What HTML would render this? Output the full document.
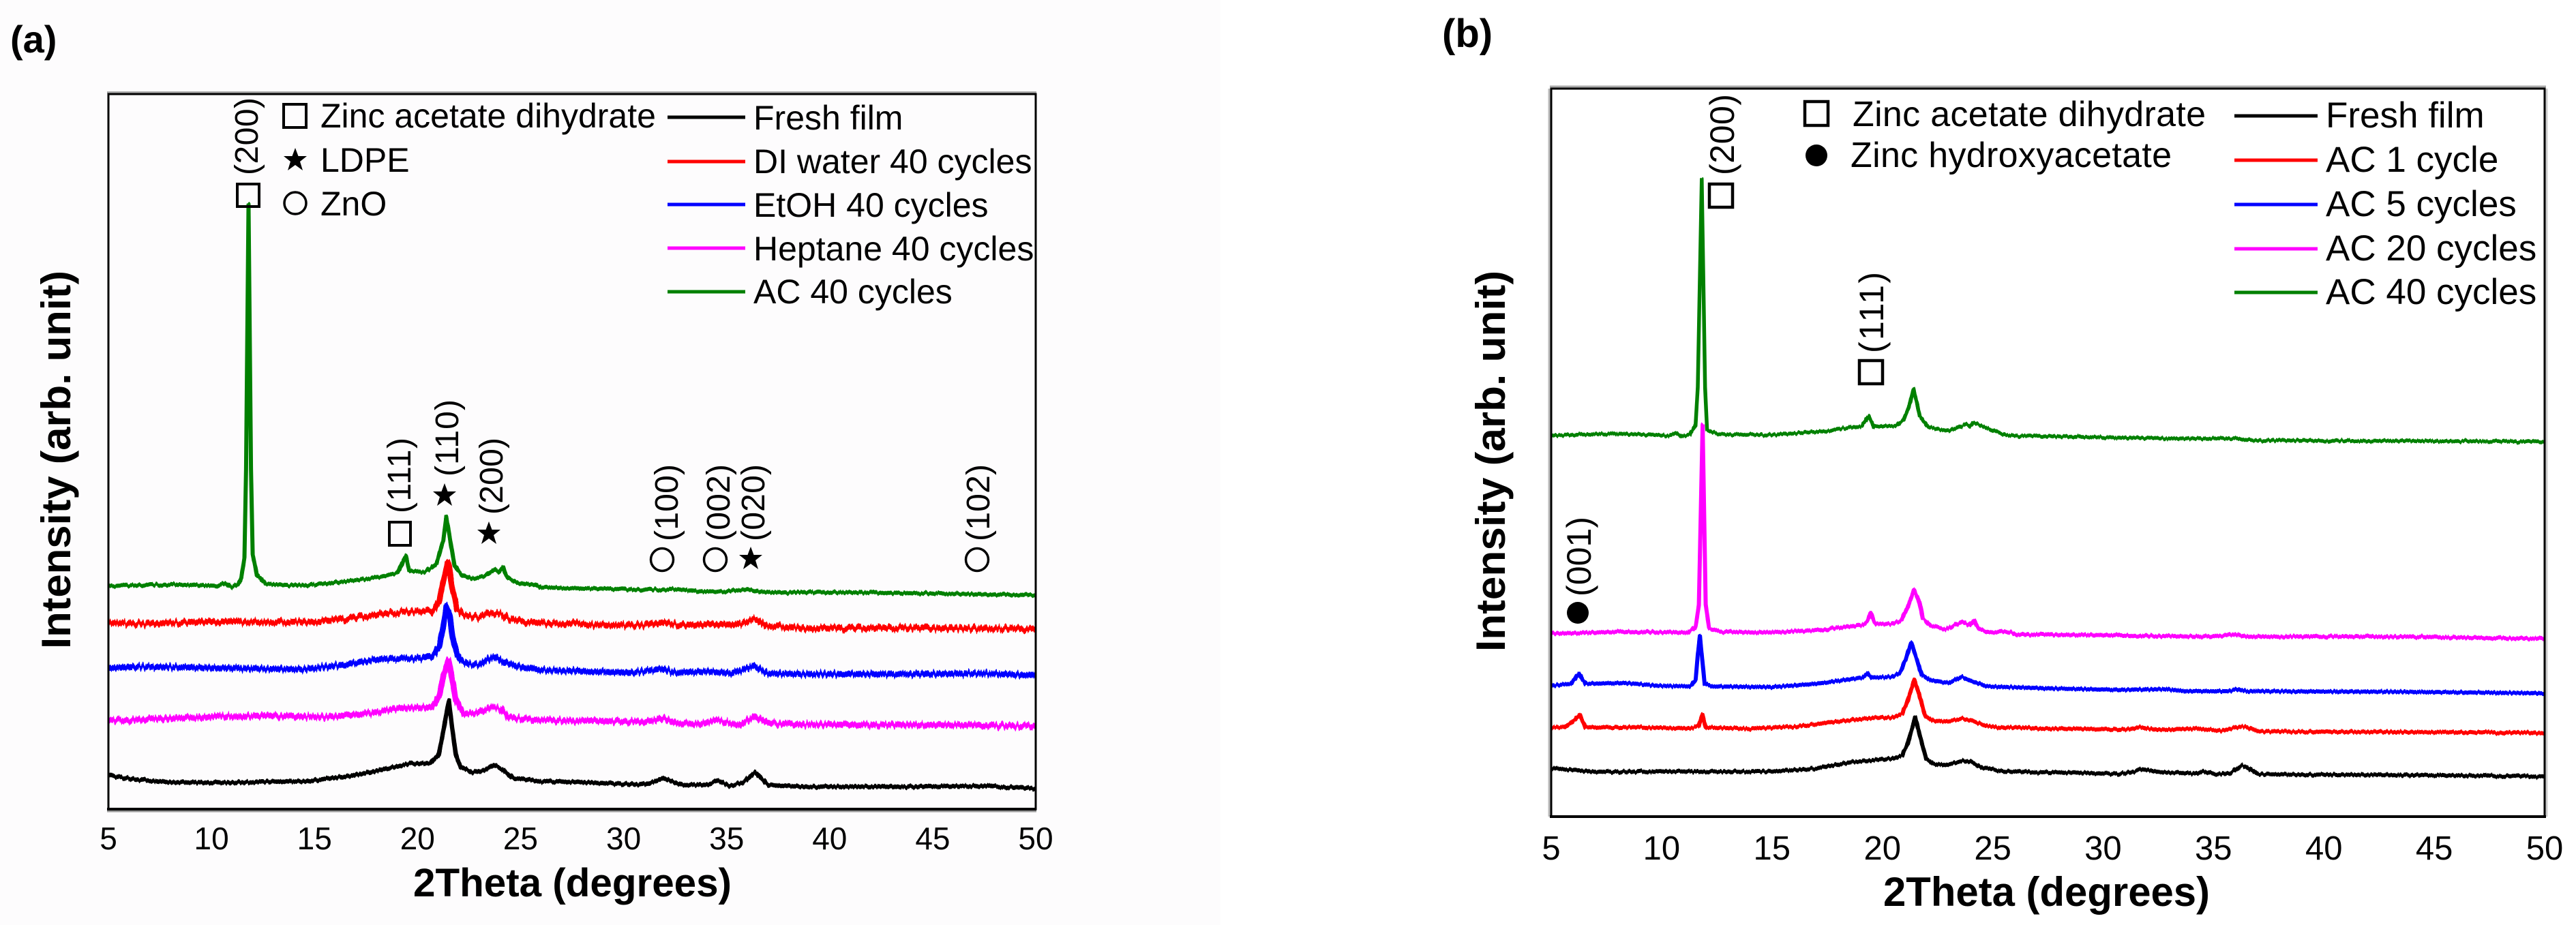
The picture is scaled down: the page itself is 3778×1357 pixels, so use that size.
<!DOCTYPE html>
<html lang="en">
<head>
<meta charset="utf-8">
<title>XRD patterns</title>
<style>
html,body{margin:0;padding:0;background:#fff;}
svg{display:block;font-family:"Liberation Sans",Arial,sans-serif;}
</style>
</head>
<body>
<svg id="fig" xmlns="http://www.w3.org/2000/svg" width="3778" height="1357" viewBox="0 0 3778 1357">
  <defs>
    <filter id="noiseStrong" filterUnits="userSpaceOnUse" x="0" y="0" width="3778" height="1357" color-interpolation-filters="sRGB">
      <feTurbulence type="fractalNoise" baseFrequency="0.35 0.004" numOctaves="2" seed="4" result="n"/>
      <feColorMatrix in="n" type="matrix" values="1 0 0 0 0  0 0 0 0 0.5  0 0 0 0 0  0 0 0 0 1" result="m"/>
      <feDisplacementMap in="SourceGraphic" in2="m" scale="13" xChannelSelector="G" yChannelSelector="R"/>
    </filter>
    <filter id="noiseWeak" filterUnits="userSpaceOnUse" x="0" y="0" width="3778" height="1357" color-interpolation-filters="sRGB">
      <feTurbulence type="fractalNoise" baseFrequency="0.35 0.004" numOctaves="2" seed="9" result="n"/>
      <feColorMatrix in="n" type="matrix" values="1 0 0 0 0  0 0 0 0 0.5  0 0 0 0 0  0 0 0 0 1" result="m"/>
      <feDisplacementMap in="SourceGraphic" in2="m" scale="6" xChannelSelector="G" yChannelSelector="R"/>
    </filter>
  </defs>
  <rect x="0" y="0" width="3778" height="1357" fill="#fff"/>
  <rect x="0" y="0" width="1790" height="1357" fill="#fdfcfd"/>

  <text x="15" y="77" font-size="56" font-weight="bold">(a)</text>
  <text x="2115" y="69" font-size="58" font-weight="bold">(b)</text>

  <g id="seriesA"></g>
  <g id="seriesB"></g>

  <g fill="none" stroke="#000">
    <line x1="157" y1="135.500" x2="1520" y2="135.500" stroke="#aaa" stroke-width="3"/>
    <line x1="157" y1="1190" x2="1520" y2="1190" stroke="#999" stroke-width="3"/>
    <rect x="159" y="138" width="1360" height="1049" stroke-width="3"/>
    <line x1="157" y1="1187" x2="1520" y2="1187" stroke-width="4"/>
  </g>
  <g fill="none" stroke="#000">
    <line x1="2273" y1="127" x2="3734" y2="127" stroke="#aaa" stroke-width="3"/>
    <line x1="3735" y1="130" x2="3735" y2="1198" stroke="#ccc" stroke-width="3"/>
    <line x1="2272" y1="130" x2="2272" y2="1198" stroke="#bbb" stroke-width="3"/>
    <rect x="2275" y="130" width="1457" height="1068" stroke-width="3"/>
    <line x1="2273" y1="1198" x2="3734" y2="1198" stroke-width="4"/>
  </g>

  <g id="ticksA" font-size="46" text-anchor="middle"></g>
  <g id="ticksB" font-size="49" text-anchor="middle"></g>

  <text x="606" y="1315" font-size="58" font-weight="bold" textLength="467" lengthAdjust="spacingAndGlyphs">2Theta (degrees)</text>
  <text x="2762" y="1329" font-size="60" font-weight="bold" textLength="479" lengthAdjust="spacingAndGlyphs">2Theta (degrees)</text>
  <text transform="translate(103,952) rotate(-90)" font-size="60" font-weight="bold" textLength="555" lengthAdjust="spacingAndGlyphs">Intensity (arb. unit)</text>
  <text transform="translate(2207,956) rotate(-90)" font-size="60" font-weight="bold" textLength="559" lengthAdjust="spacingAndGlyphs">Intensity (arb. unit)</text>

  <!-- panel a phase key -->
  <g>
    <rect x="416" y="153" width="33" height="34" fill="none" stroke="#000" stroke-width="4"/>
    <text x="470" y="187" font-size="50">Zinc acetate dihydrate</text>
    <polygon points="433,217 437.500,229 450,229 440,237 444,250 433,242 422,250 426,237 416,229 428.500,229" fill="#000"/>
    <text x="470" y="252" font-size="50">LDPE</text>
    <circle cx="433" cy="298" r="16" fill="none" stroke="#000" stroke-width="3.500"/>
    <text x="470" y="316" font-size="50">ZnO</text>
  </g>
  <!-- panel a legend -->
  <g font-size="50">
    <line x1="979" y1="172" x2="1093" y2="172" stroke="#000" stroke-width="5"/>
    <text x="1105" y="190">Fresh film</text>
    <line x1="979" y1="237" x2="1093" y2="237" stroke="#f00" stroke-width="5"/>
    <text x="1105" y="254">DI water 40 cycles</text>
    <line x1="979" y1="300" x2="1093" y2="300" stroke="#00f" stroke-width="5"/>
    <text x="1105" y="318">EtOH 40 cycles</text>
    <line x1="979" y1="364" x2="1093" y2="364" stroke="#f0f" stroke-width="5"/>
    <text x="1105" y="382">Heptane 40 cycles</text>
    <line x1="979" y1="428" x2="1093" y2="428" stroke="#008000" stroke-width="5"/>
    <text x="1105" y="445">AC 40 cycles</text>
  </g>
  <!-- panel a peak annotations -->
  <g font-size="48">
    <rect x="348" y="270" width="32" height="33" fill="none" stroke="#000" stroke-width="4"/>
    <text transform="translate(378,257) rotate(-90)" textLength="114">(200)</text>
    <rect x="571" y="766" width="31" height="34" fill="none" stroke="#000" stroke-width="4"/>
    <text transform="translate(602,753) rotate(-90)" textLength="111">(111)</text>
    <polygon points="652,709 656.500,721 669,721 659,729 663,742 652,734 641,742 645,729 635,721 647.500,721" fill="#000"/>
    <text transform="translate(672,699) rotate(-90)" textLength="113">(110)</text>
    <polygon points="717,765 721.500,777 734,777 724,785 728,798 717,790 706,798 710,785 700,777 712.500,777" fill="#000"/>
    <text transform="translate(737,755) rotate(-90)" textLength="113">(200)</text>
    <circle cx="971" cy="821" r="16.500" fill="none" stroke="#000" stroke-width="3.500"/>
    <text transform="translate(994,794) rotate(-90)" textLength="113">(100)</text>
    <circle cx="1049" cy="821" r="16.500" fill="none" stroke="#000" stroke-width="3.500"/>
    <text transform="translate(1070,794) rotate(-90)" textLength="113">(002)</text>
    <polygon points="1101,802 1105.500,814 1118,814 1108,822 1112,835 1101,827 1090,835 1094,822 1084,814 1096.500,814" fill="#000"/>
    <text transform="translate(1121,794) rotate(-90)" textLength="113">(020)</text>
    <circle cx="1433" cy="821" r="16.500" fill="none" stroke="#000" stroke-width="3.500"/>
    <text transform="translate(1451,794) rotate(-90)" textLength="113">(102)</text>
  </g>

  <!-- panel b phase key -->
  <g font-size="52">
    <rect x="2647" y="149" width="34" height="35" fill="none" stroke="#000" stroke-width="4.500"/>
    <text x="2717" y="185" textLength="518">Zinc acetate dihydrate</text>
    <circle cx="2664" cy="228" r="16" fill="#000"/>
    <text x="2714" y="245" textLength="471">Zinc hydroxyacetate</text>
  </g>
  <!-- panel b legend -->
  <g font-size="53">
    <line x1="3277" y1="170" x2="3399" y2="170" stroke="#000" stroke-width="5"/>
    <text x="3411" y="187">Fresh film</text>
    <line x1="3277" y1="235" x2="3399" y2="235" stroke="#f00" stroke-width="5"/>
    <text x="3411" y="252">AC 1 cycle</text>
    <line x1="3277" y1="300" x2="3399" y2="300" stroke="#00f" stroke-width="5"/>
    <text x="3411" y="317">AC 5 cycles</text>
    <line x1="3277" y1="365" x2="3399" y2="365" stroke="#f0f" stroke-width="5"/>
    <text x="3411" y="382">AC 20 cycles</text>
    <line x1="3277" y1="429" x2="3399" y2="429" stroke="#008000" stroke-width="5"/>
    <text x="3411" y="446">AC 40 cycles</text>
  </g>
  <!-- panel b peak annotations -->
  <g font-size="50">
    <rect x="2507" y="270" width="34" height="34" fill="none" stroke="#000" stroke-width="4.500"/>
    <text transform="translate(2543,257) rotate(-90)" textLength="119">(200)</text>
    <rect x="2727" y="529" width="34" height="34" fill="none" stroke="#000" stroke-width="4.500"/>
    <text transform="translate(2762,518) rotate(-90)" textLength="119">(111)</text>
    <circle cx="2314" cy="899" r="16" fill="#000"/>
    <text transform="translate(2333,875) rotate(-90)" textLength="117">(001)</text>
  </g>
</svg>

<script>
const xTicks = [5, 10, 15, 20, 25, 30, 35, 40, 45, 50];

// Panel (a): readings of 2-theta (degrees) and intensity (arb. unit)
const aFreshTheta = [5,6.2,8,11.3,14.6,16.8,18.5,19.6,20.6,21.03,21.25,21.52,21.69,21.86,22.08,22.68,23.23,23.73,24.12,24.67,26,29.3,31,31.95,32.83,34.05,34.6,35.15,35.8,36.36,37.02,38.8,44,47.6,50];
const aFreshI = [51,45,40,40,42,50,60,68,68,81,115,160,118,81,63,55,58,65,60,46,42,39,37,46,36,37,43,35,40,55,36,34,34,35,31];

const aWaterTheta = [5,6.1,10.2,13.5,15.2,16.8,18.5,19.6,20.7,21.03,21.25,21.48,21.69,21.91,22.24,22.9,23.5,24.06,24.45,25.44,26.54,29.3,30.74,31.84,32.83,33.7,34.5,35.37,36.25,36.5,36.9,38.8,44,50];
const aWaterI = [275,273,276,275,276,281,288,291,291,305,335,363,325,295,286,282,289,287,279,275,274,271,271,275,271,271,273,270,279,279,270,266,267,265];

const aEtohTheta = [5,6.7,10.2,14.4,15.7,16.8,17.9,19,20.1,20.7,21.03,21.25,21.4,21.58,21.75,22.02,22.52,23.01,23.68,24.23,24.89,26,28.2,30.4,31.84,32.5,34.15,35.26,36.3,37.02,38.8,44,47.5,50];
const aEtohI = [208,210,208,206,210,214,220,222,222,225,238,268,299,281,245,221,213,213,225,216,210,205,203,201,207,201,203,200,211,200,199,199,200,197];

const aHeptaneTheta = [5,5.8,9,12.4,15.7,17.9,19,20.7,21.03,21.25,21.5,21.63,21.86,22.24,22.8,23.57,24.06,24.4,26,29.3,31.3,31.9,32.6,33.7,34.5,35.6,36.36,37,38.8,44,50];
const aHeptaneI = [132,131,136,138,136,143,149,151,165,195,220,201,161,141,141,151,148,136,131,130,129,135,127,127,131,125,137,127,125,125,123];

const aAc40Theta = [5,7,9,10.3,10.66,11,11.3,11.45,11.6,11.68,11.8,11.92,12,12.2,12.64,14.63,16.28,17.94,19.04,19.43,19.6,20.36,20.92,21.25,21.4,21.63,21.8,22.13,22.68,23.23,23.73,23.95,24.14,24.34,24.89,25.44,25.72,26,28.2,30.4,32.94,33.7,34.8,36.03,36.8,38.8,44,50];
const aAc40I = [328,330,330,328,333,326,331,340,370,500,888,500,375,345,331,329,334,340,348,373,351,349,361,395,430,388,358,345,339,343,353,349,356,341,333,330,331,326,325,323,323,320,320,323,319,319,318,315];

// Panel (b): readings of 2-theta (degrees) and intensity (arb. unit)
const bFreshTheta = [5,6.75,10.87,15,17.04,18.6,20.44,20.9,21.16,21.49,21.73,21.98,22.29,22.8,23.68,23.99,24.56,25.8,30.73,31.25,31.87,32.48,34.23,34.54,35.06,35.78,36.29,36.5,37,43.8,50];
const bFreshI = [71,66,66,66,71,80,85,90,108,146,115,85,78,75,82,81,71,66,63,65,70,65,63,67,62,64,75,73,62,61,59];

const bAc1Theta = [5,5.6,6,6.3,6.54,8.8,11.28,11.69,11.85,12,13.95,16,18.07,19.6,20.44,20.9,21.16,21.45,21.68,21.93,22.29,22.9,23.63,24.04,24.76,27.65,31.15,31.76,32.48,34.34,35.37,36.19,36.5,37,43.8,50];
const bAc1I = [131,131,140,149,131,131,129,133,150,131,129,132,140,145,145,151,171,201,178,148,141,139,144,141,132,129,128,131,127,129,126,132,132,125,124,123];

const bAc5Theta = [5,5.9,6.25,6.54,8.4,9.84,11.28,11.54,11.64,11.74,11.84,11.95,12.31,15,17.04,19.1,19.33,19.5,20.44,20.8,21.06,21.31,21.52,21.78,22.19,23,23.58,24.1,24.76,27.65,30.73,32.9,33.6,35.7,36.04,36.5,43.8,50];
const bAc5I = [192,195,210,195,196,192,191,200,238,265,231,195,191,190,195,204,210,204,205,211,231,255,235,208,200,196,205,198,191,188,186,187,184,184,187,184,183,181];

const bAc20Theta = [5,8.5,11.18,11.54,11.69,11.86,12,12.15,12.72,14.47,17.04,19.1,19.3,19.48,19.67,20.44,20.85,21.16,21.44,21.68,21.83,22.19,22.86,23.63,23.94,24.15,24.35,24.76,25.8,26.1,28.68,31.76,34.85,35.98,36.5,43.8,50];
const bAc20I = [269,271,270,278,311,575,311,276,271,270,273,281,285,298,283,283,288,308,333,315,291,280,275,286,281,288,276,271,271,267,267,265,264,267,264,264,261];

const bAc40Theta = [5,7.94,10.3,10.67,10.92,11.28,11.54,11.64,11.82,11.97,12.06,12.57,15.14,17.2,19.06,19.39,19.62,20.6,20.97,21.2,21.42,21.7,22.08,23,23.75,23.95,24.12,25.6,32.6,35.95,36.7,50];
const bAc40I = [559,562,559,563,558,561,575,631,935,631,568,561,560,565,573,588,572,573,582,600,627,587,571,566,575,572,578,559,555,555,552,550];

const xDomain = [5, 50];

function scaleX(theta, range) {
  return range[0] + (theta - xDomain[0]) / (xDomain[1] - xDomain[0]) * (range[1] - range[0]);
}
function scaleY(value, domainMax, range) {
  return range[0] + value / domainMax * (range[1] - range[0]);
}

const NS = 'http://www.w3.org/2000/svg';
const panelA = { xRange: [159, 1519], yRange: [1188, 138], yMax: 1050 };
const panelB = { xRange: [2275, 3732], yRange: [1198, 130], yMax: 1068 };

function drawSeries(parent, panel, name, thetas, values, color, width, noise) {
  const pts = thetas.map(function (t, i) {
    return scaleX(t, panel.xRange).toFixed(1) + ',' + scaleY(values[i], panel.yMax, panel.yRange).toFixed(1);
  }).join(' ');
  const el = document.createElementNS(NS, 'polyline');
  
  
  el.setAttribute('points', pts);
  el.setAttribute('fill', 'none');
  el.setAttribute('stroke', color);
  el.setAttribute('stroke-width', width);
  el.setAttribute('stroke-linejoin', 'round');
  el.setAttribute('filter', 'url(#' + noise + ')');
  parent.appendChild(el);
}

function drawTicks(parent, panel, baseline) {
  xTicks.forEach(function (t) {
    const el = document.createElementNS(NS, 'text');
    
    
    el.setAttribute('x', scaleX(t, panel.xRange).toFixed(1));
    el.setAttribute('y', baseline);
    el.textContent = String(t);
    parent.appendChild(el);
  });
}

const gA = document.getElementById('seriesA');
drawSeries(gA, panelA, 'series-fresh-film-a', aFreshTheta, aFreshI, '#000', 6.5, 'noiseWeak');
drawSeries(gA, panelA, 'series-di-water', aWaterTheta, aWaterI, '#f00', 8.5, 'noiseStrong');
drawSeries(gA, panelA, 'series-etoh', aEtohTheta, aEtohI, '#00f', 8.5, 'noiseStrong');
drawSeries(gA, panelA, 'series-heptane', aHeptaneTheta, aHeptaneI, '#f0f', 8.5, 'noiseStrong');
drawSeries(gA, panelA, 'series-ac40-a', aAc40Theta, aAc40I, '#008000', 6, 'noiseWeak');

const gB = document.getElementById('seriesB');
drawSeries(gB, panelB, 'series-fresh-film-b', bFreshTheta, bFreshI, '#000', 6, 'noiseWeak');
drawSeries(gB, panelB, 'series-ac1', bAc1Theta, bAc1I, '#f00', 6, 'noiseWeak');
drawSeries(gB, panelB, 'series-ac5', bAc5Theta, bAc5I, '#00f', 6, 'noiseWeak');
drawSeries(gB, panelB, 'series-ac20', bAc20Theta, bAc20I, '#f0f', 6, 'noiseWeak');
drawSeries(gB, panelB, 'series-ac40-b', bAc40Theta, bAc40I, '#008000', 5.5, 'noiseWeak');

drawTicks(document.getElementById('ticksA'), panelA, 1246);
drawTicks(document.getElementById('ticksB'), panelB, 1261);
</script>
</body>
</html>
